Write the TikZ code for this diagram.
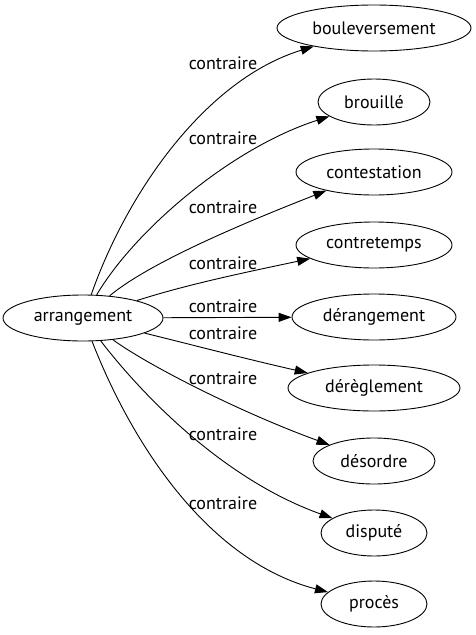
\documentclass[tikz,border=0pt]{standalone}
\usepackage{fontspec}
\setmainfont{PT Sans}
\usetikzlibrary{shapes.geometric,arrows.meta}
\begin{document}
\begin{tikzpicture}[x=1pt,y=-1pt,
  word/.style={draw, ellipse, line width=0.9pt, inner sep=0pt, minimum height=46pt, font=\fontsize{18}{20}\selectfont},
  lbl/.style={inner sep=0pt, font=\fontsize{18}{20}\selectfont},
  rel/.style={line width=0.9pt, -{Triangle[length=13pt,width=9pt]}}]
\useasboundingbox (0,0) rectangle (476,635);
\node[word, minimum width=160pt] (arr) at (83,318) {arrangement};
\node[word, minimum width=194pt] (n1) at (374,28) {bouleversement};
\node[word, minimum width=112pt] (n2) at (374,102) {brouillé};
\node[word, minimum width=156pt] (n3) at (374,172) {contestation};
\node[word, minimum width=156pt] (n4) at (374,245) {contretemps};
\node[word, minimum width=164pt] (n5) at (374,317) {dérangement};
\node[word, minimum width=172pt] (n6) at (374,388) {dérèglement};
\node[word, minimum width=122pt] (n7) at (374,461) {désordre};
\node[word, minimum width=106pt] (n8) at (374,533) {disputé};
\node[word, minimum width=106pt] (n9) at (374,604) {procès};
\draw[rel] (arr) .. controls (128,190) and (207,79) .. (n1);
\draw[rel] (arr) .. controls (135,230) and (231,148) .. (n2);
\draw[rel] (arr) .. controls (149,263) and (241,224) .. (n3);
\draw[rel] (arr) .. controls (188,284) and (252,271) .. (n4);
\draw[rel] (arr) -- (n5);
\draw[rel] (arr) .. controls (185,343) and (242,358) .. (n6);
\draw[rel] (arr) .. controls (149,366) and (242,413) .. (n7);
\draw[rel] (arr) .. controls (151,406) and (231,482) .. (n8);
\draw[rel] (arr) .. controls (132,444) and (208,561) .. (n9);
\node[lbl] (l1) at (223,63) {contraire};
\node[lbl] (l2) at (223,138) {contraire};
\node[lbl] (l3) at (223,207) {contraire};
\node[lbl] (l4) at (223,263) {contraire};
\node[lbl] (l5) at (223,306) {contraire};
\node[lbl] (l6) at (223,333) {contraire};
\node[lbl] (l7) at (223,378) {contraire};
\node[lbl] (l8) at (223,434) {contraire};
\node[lbl] (l9) at (223,503) {contraire};
\end{tikzpicture}
\end{document}
